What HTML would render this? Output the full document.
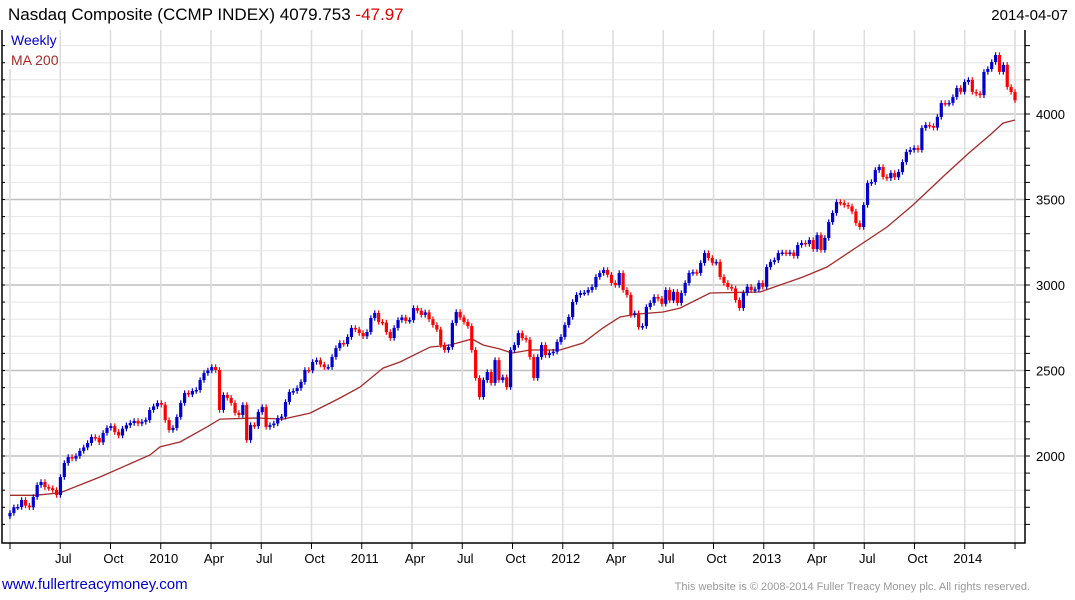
<!DOCTYPE html>
<html><head><meta charset="utf-8"><style>
body{margin:0;background:#fff;width:1075px;height:600px;overflow:hidden;font-family:"Liberation Sans",Arial,sans-serif}
svg{position:absolute;left:0;top:0}
</style></head><body>
<svg id="chart" width="1075" height="600" xmlns="http://www.w3.org/2000/svg">
<text x="8" y="20" font-size="17" fill="#000">Nasdaq Composite (CCMP INDEX) 4079.753 <tspan fill="#e00000">-47.97</tspan></text>
<text x="1068" y="20" font-size="15" fill="#000" text-anchor="end">2014-04-07</text>
<g id="grid"></g><g id="ma"></g><g id="candles"></g><g id="axes"></g>
<rect x="9" y="31" width="50" height="38" fill="#fff"/>
<text x="11" y="45" font-size="14" fill="#0000cc">Weekly</text>
<text x="11" y="65" font-size="14" fill="#a52a2a">MA 200</text>
<text x="2" y="589" font-size="15" fill="#0000cc">www.fullertreacymoney.com</text>
<text x="1030" y="590" font-size="11" fill="#999" text-anchor="end">This website is © 2008-2014 Fuller Treacy Money plc. All rights reserved.</text>
</svg>
<script>
const closes=[1667,1700,1702,1743,1710,1700,1760,1830,1848,1818,1812,1801,1772,1877,1959,1994,1985,2000,2030,2050,2076,2111,2105,2080,2135,2164,2175,2140,2120,2160,2180,2193,2205,2190,2200,2210,2269,2290,2310,2300,2210,2152,2164,2228,2310,2368,2360,2380,2386,2444,2485,2500,2520,2503,2269,2357,2340,2310,2252,2240,2298,2093,2181,2175,2257,2286,2170,2180,2190,2222,2230,2316,2374,2380,2397,2433,2503,2500,2550,2560,2535,2520,2520,2579,2631,2661,2655,2696,2749,2740,2719,2700,2725,2807,2836,2784,2780,2725,2690,2749,2795,2810,2790,2795,2865,2850,2825,2840,2800,2766,2740,2649,2620,2637,2778,2842,2810,2784,2760,2620,2456,2345,2444,2491,2427,2561,2444,2460,2403,2620,2649,2719,2690,2680,2579,2456,2579,2649,2590,2602,2610,2667,2696,2766,2813,2901,2942,2953,2955,2971,2988,3047,3070,3088,3060,3012,3000,3070,2971,2942,2825,2835,2754,2760,2871,2895,2930,2920,2890,2971,2910,2960,2895,2953,3012,3070,3075,3070,3129,3187,3158,3130,3135,3047,3012,2988,2980,2912,2865,2953,2990,2970,2975,3012,2990,3105,3135,3145,3187,3190,3185,3190,3170,3234,3246,3240,3263,3210,3292,3205,3275,3368,3421,3485,3480,3468,3460,3430,3362,3339,3468,3596,3602,3672,3690,3632,3625,3655,3630,3661,3719,3778,3790,3801,3790,3918,3936,3930,3920,3983,4064,4060,4065,4099,4152,4130,4187,4199,4129,4120,4110,4246,4263,4304,4345,4246,4287,4158,4129,4080];
const maX=[10,35,60,100,150,160,180,207,220,257,283,310,340,360,383,400,430,450,472,483,500,512,530,560,583,603,620,637,663,680,710,760,803,827,857,887,913,947,970,990,1003,1015];
const maValues=[1770,1770,1784,1877,2006,2053,2082,2170,2216,2222,2216,2251,2339,2403,2514,2550,2637,2649,2684,2649,2626,2602,2620,2620,2661,2749,2813,2830,2842,2865,2953,2959,3047,3105,3222,3339,3468,3655,3778,3877,3947,3965];
const yTicks=[2000,2500,3000,3500,4000];
const xLabels=["Jul","Oct","2010","Apr","Jul","Oct","2011","Apr","Jul","Oct","2012","Apr","Jul","Oct","2013","Apr","Jul","Oct","2014"];
const NS="http://www.w3.org/2000/svg";
const L=2,R=1025,T=30,B=543;
function y(v){return 114+(4000-v)*0.171;}
const x0=10,x1=1015;
function xw(i){return x0+i*(x1-x0)/(closes.length-1);}
function mk(tag,attrs,parent){const e=document.createElementNS(NS,tag);for(const k in attrs)e.setAttribute(k,attrs[k]);parent.appendChild(e);return e;}
const grid=document.getElementById('grid'),axes=document.getElementById('axes');
for(let v=1600;v<=4400;v+=100){const yy=y(v);if(yy<T||yy>B)continue;
 const ln=mk('line',{x1:L,x2:R,y1:yy,y2:yy,stroke:v%500===0?'#c0c0c0':'#e6e6e6','stroke-width':v%500===0?1.5:1},grid);
 
 
 mk('line',{x1:R,x2:R+5,y1:yy,y2:yy,stroke:'#000'},axes);
 mk('line',{x1:L,x2:L+3,y1:yy,y2:yy,stroke:'#000'},axes);}
for(let q=0;q<=20;q++){const xx=10+q*50.25;
 const g=mk('line',{x1:xx,x2:xx,y1:T,y2:B,stroke:'#dcdcdc','stroke-width':1.5},grid);
 
 
 mk('line',{x1:xx,x2:xx,y1:B,y2:B+6,stroke:'#000'},axes);
 if(q>=1&&q<=19){const t=mk('text',{x:xx+3,y:563,'font-size':13,'text-anchor':'middle',fill:'#000'},axes);t.textContent=xLabels[q-1];
 
 }}
yTicks.forEach(v=>{const t=mk('text',{x:1036,y:y(v)+5,'font-size':13,fill:'#000'},axes);t.textContent=v;
 
 });
const frame=mk('path',{d:`M${L} ${T}V${B}H${R}V${T}`,fill:'none',stroke:'#000','stroke-width':1.5},axes);


let d='';maX.forEach((xx,i)=>{d+=(i?'L':'M')+xx+' '+y(maValues[i]).toFixed(1);});
const ma=mk('path',{d:d,fill:'none',stroke:'#a52a2a','stroke-width':1.3},document.getElementById('ma'));


const cg=document.getElementById('candles');const wick=16;
closes.forEach((c,i)=>{const o=i?closes[i-1]:c-20;const col=c>=o?'#0000cc':'#ff0000';const xx=xw(i);
 const hi=Math.max(o,c)+wick,lo=Math.min(o,c)-wick;
 const w=mk('line',{x1:xx,x2:xx,y1:y(hi),y2:y(lo),stroke:col,'stroke-width':1.2},cg);
 
 
 const top=y(Math.max(o,c)),h=Math.max(1.5,Math.abs(y(o)-y(c)));
 const r=mk('rect',{x:xx-1.6,y:top,width:3.2,height:h,fill:col},cg);
 
 });
</script>
</body></html>
